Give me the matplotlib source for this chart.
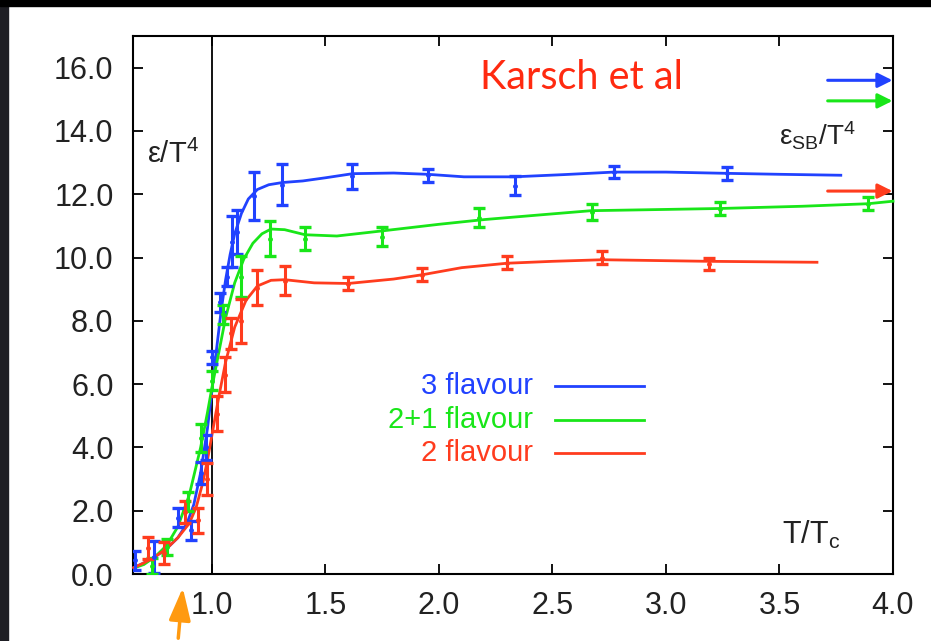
import numpy as np
import matplotlib
matplotlib.use("Agg")
import matplotlib.pyplot as plt
from matplotlib.patches import Rectangle, FancyArrowPatch

plt.rcParams['font.family'] = ['Liberation Sans', 'DejaVu Sans']

# 3 flavour: puntos con error
x3 = [0.66, 0.745, 0.85, 0.907, 0.952, 0.975, 1.0, 1.035, 1.066, 1.09, 1.11, 1.185, 1.31, 1.617, 1.95, 2.335, 2.77, 3.27]
y3 = [0.44, 0.53, 1.77, 1.39, 3.2, 4.0, 6.85, 8.58, 9.4, 10.5, 10.8, 11.95, 12.3, 12.57, 12.6, 12.27, 12.7, 12.66]
e3 = [0.3, 0.5, 0.3, 0.3, 0.35, 0.4, 0.2, 0.3, 0.3, 0.8, 0.7, 0.75, 0.65, 0.4, 0.2, 0.3, 0.2, 0.2]

# 2+1 flavour
x21 = [0.736, 0.80, 0.894, 0.952, 1.0, 1.05, 1.128, 1.255, 1.41, 1.75, 2.176, 2.674, 3.24, 3.89]
y21 = [0.25, 0.85, 2.3, 4.3, 6.1, 8.2, 9.4, 10.6, 10.6, 10.66, 11.25, 11.45, 11.54, 11.7]
e21 = [0.25, 0.25, 0.3, 0.45, 0.3, 0.3, 0.66, 0.55, 0.35, 0.3, 0.3, 0.25, 0.2, 0.2]

# 2 flavour
x2 = [0.72, 0.79, 0.88, 0.94, 0.978, 1.02, 1.057, 1.084, 1.128, 1.20, 1.32, 1.60, 1.925, 2.30, 2.72, 3.19]
y2 = [0.82, 0.66, 1.95, 1.7, 3.0, 5.07, 6.3, 7.6, 8.0, 9.05, 9.27, 9.17, 9.46, 9.84, 10.0, 9.8]
e2 = [0.35, 0.35, 0.35, 0.4, 0.5, 0.55, 0.55, 0.5, 0.7, 0.55, 0.45, 0.2, 0.2, 0.2, 0.2, 0.2]

# curvas de ajuste
cx3 = [0.655, 0.70, 0.75, 0.80, 0.85, 0.89, 0.92, 0.95, 0.98, 1.0, 1.02, 1.04, 1.06, 1.08, 1.10, 1.13, 1.16, 1.2, 1.25, 1.31, 1.4, 1.5, 1.62, 1.8, 1.95, 2.11, 2.33, 2.55, 2.77, 3.0, 3.27, 3.5, 3.77]
cy3 = [0.2, 0.35, 0.55, 0.8, 1.15, 1.6, 2.2, 3.2, 4.6, 5.8, 7.1, 8.3, 9.3, 10.1, 10.75, 11.4, 11.85, 12.15, 12.3, 12.37, 12.42, 12.52, 12.65, 12.67, 12.63, 12.55, 12.55, 12.62, 12.7, 12.7, 12.66, 12.63, 12.6]

cx21 = [0.66, 0.70, 0.75, 0.80, 0.85, 0.90, 0.95, 0.98, 1.0, 1.03, 1.06, 1.10, 1.14, 1.18, 1.22, 1.26, 1.32, 1.41, 1.55, 1.76, 2.0, 2.2, 2.45, 2.67, 3.0, 3.24, 3.6, 3.89, 4.0]
cy21 = [0.2, 0.3, 0.55, 0.9, 1.5, 2.5, 4.0, 5.1, 5.9, 7.0, 8.1, 9.2, 9.95, 10.45, 10.75, 10.9, 10.88, 10.72, 10.68, 10.85, 11.05, 11.2, 11.35, 11.48, 11.52, 11.55, 11.62, 11.7, 11.78]

cx2 = [0.655, 0.70, 0.75, 0.80, 0.85, 0.90, 0.93, 0.96, 0.98, 1.0, 1.03, 1.06, 1.10, 1.15, 1.2, 1.26, 1.32, 1.45, 1.6, 1.8, 1.93, 2.1, 2.3, 2.5, 2.72, 3.0, 3.19, 3.665]
cy2 = [0.2, 0.35, 0.55, 0.8, 1.15, 1.6, 2.1, 2.9, 3.6, 4.4, 5.6, 6.7, 7.8, 8.65, 9.1, 9.28, 9.3, 9.2, 9.18, 9.32, 9.46, 9.68, 9.82, 9.88, 9.93, 9.9, 9.88, 9.85]

# limites de Stefan-Boltzmann
sb = [15.6, 14.95, 12.1]

blue = '#2142ff'
green = '#19e619'
red = '#ff3c1e'

fig = plt.figure(figsize=(9.31, 6.41), dpi=100, facecolor='white')
# bordes oscuros de la diapositiva
fig.patches.append(Rectangle((0, 0), 8 / 931, 1, transform=fig.transFigure, color='#1e1e24', zorder=0))
fig.patches.append(Rectangle((0, 1 - 6 / 641), 1, 6 / 641, transform=fig.transFigure, color='black', zorder=0))

ax = fig.add_axes([133 / 931, 67 / 641, 760 / 931, 538 / 641])
ax.set_xlim(0.652, 4.0)
ax.set_ylim(0, 17)

ax.axvline(1.0, color='black', lw=1.3, zorder=1)

for cx, cy, c in [(cx3, cy3, blue), (cx21, cy21, green), (cx2, cy2, red)]:
    ax.plot(cx, cy, color=c, lw=2.0, zorder=3, clip_on=False)

for x, y, e, c in [(x3, y3, e3, blue), (x21, y21, e21, green), (x2, y2, e2, red)]:
    ax.errorbar(x, y, yerr=e, fmt='o', ms=2.5, color=c, ecolor=c, elinewidth=2.2,
                capsize=4, capthick=2.4, zorder=4)

for v, c in zip(sb, [blue, green, red]):
    ax.annotate('', xy=(4.01, v), xytext=(3.70, v), annotation_clip=False,
                arrowprops=dict(arrowstyle='-|>', color=c, lw=2.2, mutation_scale=22))

ax.set_xticks([1.0, 1.5, 2.0, 2.5, 3.0, 3.5, 4.0])
ax.set_xticklabels(['1.0', '1.5', '2.0', '2.5', '3.0', '3.5', '4.0'])
ax.set_yticks(np.arange(0, 17, 2))
ax.set_yticklabels(['%.1f' % v for v in np.arange(0, 17, 2)])
ax.tick_params(direction='in', length=7, width=1.3, top=True, right=True,
               labelsize=22, colors='black', labelcolor='#222222', pad=14)
ax.tick_params(axis='x', pad=12)
for s in ax.spines.values():
    s.set_linewidth(1.5)

ax.text(0.713, 13.0, r'$\mathregular{\epsilon/T^4}$', fontsize=21, ha='left', va='baseline', color='#222222')
ax.text(3.50, 13.55, r'$\mathregular{\epsilon_{SB}/T^4}$', fontsize=20, ha='left', va='baseline', color='#222222')
ax.text(3.51, 0.95, r'$\mathregular{T/T_c}$', fontsize=22, ha='left', va='baseline', color='#222222')
ax.text(2.18, 15.33, 'Karsch et al', color='#ff2a10', fontsize=28.5, family=['Lato', 'DejaVu Sans'],
        ha='left', va='baseline')

# leyenda hecha a mano
labels = ['3 flavour', '2+1 flavour', '2 flavour']
for i, (lab, c) in enumerate(zip(labels, [blue, green, red])):
    yy = 5.95 - i * 1.07
    ax.text(2.415, yy, lab, color=c, fontsize=21, ha='right', va='center')
    ax.plot([2.51, 2.905], [yy, yy], color=c, lw=2.0)

# flecha naranja debajo del eje
fig.patches.append(FancyArrowPatch(
    (178 / 931, 0.0), (183 / 931, 56 / 641), transform=fig.transFigure,
    arrowstyle='-|>,head_length=0.9,head_width=0.3', mutation_scale=22, color='#ff9a10', lw=2.5))

fig.savefig('out.png', dpi=100, facecolor=fig.get_facecolor())
